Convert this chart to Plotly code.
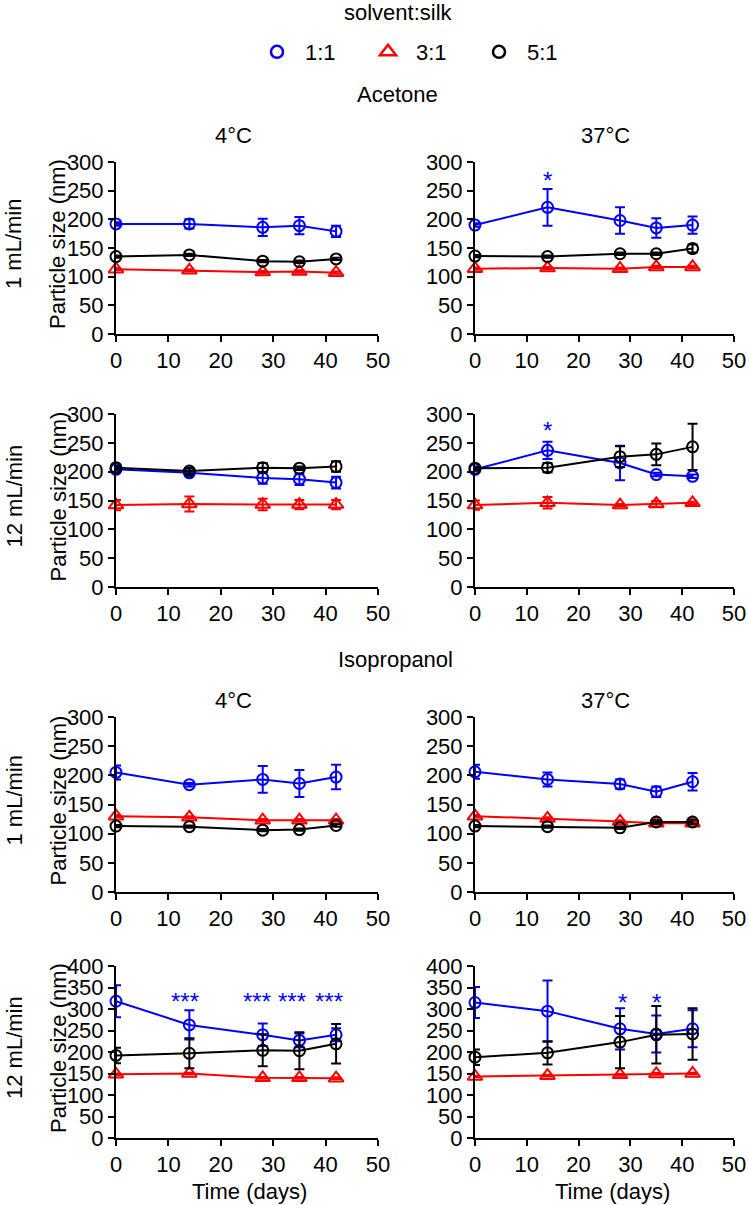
import plotly.graph_objects as go
from plotly.subplots import make_subplots

W, H = 749, 1205
FONT = "Liberation Sans, Arial, sans-serif"
FS = 22

days = [0, 14, 28, 35, 42]
ratios = ["1:1", "3:1", "5:1"]
colors = {"1:1": "#0000ff", "3:1": "#ff0000", "5:1": "#000000"}
symbols = {"1:1": "circle-open", "3:1": "triangle-up-open", "5:1": "circle-open"}
sizes = {"1:1": 11, "3:1": 13, "5:1": 11}

# Acetone, 1 mL/min, 4 °C
ace_1_4_11 = [192, 192, 186, 189, 179]
ace_1_4_11_sd = [3, 8, 15, 15, 10]
ace_1_4_31 = [113, 111, 108, 109, 107]
ace_1_4_31_sd = [2, 2, 2, 2, 2]
ace_1_4_51 = [135, 138, 127, 126, 131]
ace_1_4_51_sd = [2, 2, 2, 2, 2]

# Acetone, 1 mL/min, 37 °C
ace_1_37_11 = [190, 221, 198, 185, 190]
ace_1_37_11_sd = [3, 32, 23, 17, 15]
ace_1_37_31 = [114, 115, 114, 117, 117]
ace_1_37_31_sd = [2, 2, 2, 2, 2]
ace_1_37_51 = [136, 135, 140, 140, 149]
ace_1_37_51_sd = [2, 2, 2, 2, 7]

# Acetone, 12 mL/min, 4 °C
ace_12_4_11 = [204, 198, 189, 187, 181]
ace_12_4_11_sd = [3, 4, 10, 10, 10]
ace_12_4_31 = [142, 144, 143, 143, 143]
ace_12_4_31_sd = [9, 13, 10, 8, 8]
ace_12_4_51 = [207, 201, 207, 206, 209]
ace_12_4_51_sd = [3, 5, 8, 3, 9]

# Acetone, 12 mL/min, 37 °C
ace_12_37_11 = [204, 237, 215, 195, 192]
ace_12_37_11_sd = [3, 15, 30, 3, 3]
ace_12_37_31 = [142, 146, 142, 144, 146]
ace_12_37_31_sd = [8, 10, 2, 5, 2]
ace_12_37_51 = [206, 207, 226, 230, 243]
ace_12_37_51_sd = [3, 8, 18, 19, 40]

# Isopropanol, 1 mL/min, 4 °C
iso_1_4_11 = [205, 184, 193, 186, 197]
iso_1_4_11_sd = [12, 3, 23, 23, 21]
iso_1_4_31 = [130, 128, 123, 123, 123]
iso_1_4_31_sd = [2, 2, 2, 2, 2]
iso_1_4_51 = [113, 112, 106, 107, 114]
iso_1_4_51_sd = [2, 2, 2, 2, 2]

# Isopropanol, 1 mL/min, 37 °C
iso_1_37_11 = [206, 193, 185, 172, 189]
iso_1_37_11_sd = [12, 12, 8, 9, 15]
iso_1_37_31 = [130, 126, 121, 118, 118]
iso_1_37_31_sd = [2, 2, 2, 2, 2]
iso_1_37_51 = [113, 112, 110, 120, 120]
iso_1_37_51_sd = [2, 2, 2, 3, 4]

# Isopropanol, 12 mL/min, 4 °C
iso_12_4_11 = [318, 263, 240, 227, 240]
iso_12_4_11_sd = [37, 34, 26, 16, 15]
iso_12_4_31 = [148, 150, 140, 140, 139]
iso_12_4_31_sd = [2, 2, 2, 2, 2]
iso_12_4_51 = [192, 197, 204, 203, 219]
iso_12_4_51_sd = [18, 35, 37, 43, 46]

# Isopropanol, 12 mL/min, 37 °C
iso_12_37_11 = [315, 295, 254, 242, 254]
iso_12_37_11_sd = [36, 71, 48, 43, 43]
iso_12_37_31 = [143, 145, 147, 149, 150]
iso_12_37_31_sd = [2, 2, 2, 2, 2]
iso_12_37_51 = [188, 198, 223, 240, 242]
iso_12_37_51_sd = [18, 27, 61, 67, 60]

# significance marks: (day, level, text, series)
ace_1_37_stars = [(14, 280, "*", "1:1")]
ace_12_37_stars = [(14, 283, "*", "1:1"), (42, 309, "**", "5:1")]
iso_12_4_stars = [(13.2, 334, "***", "1:1"), (26.9, 334, "***", "1:1"),
                  (33.6, 334, "***", "1:1"), (40.6, 334, "***", "1:1")]
iso_12_37_stars = [(28.4, 331, "*", "1:1"), (35.1, 331, "*", "1:1")]

panels = [
    (1, 1, [ace_1_4_11, ace_1_4_31, ace_1_4_51],
     [ace_1_4_11_sd, ace_1_4_31_sd, ace_1_4_51_sd], []),
    (1, 2, [ace_1_37_11, ace_1_37_31, ace_1_37_51],
     [ace_1_37_11_sd, ace_1_37_31_sd, ace_1_37_51_sd], ace_1_37_stars),
    (2, 1, [ace_12_4_11, ace_12_4_31, ace_12_4_51],
     [ace_12_4_11_sd, ace_12_4_31_sd, ace_12_4_51_sd], []),
    (2, 2, [ace_12_37_11, ace_12_37_31, ace_12_37_51],
     [ace_12_37_11_sd, ace_12_37_31_sd, ace_12_37_51_sd], ace_12_37_stars),
    (3, 1, [iso_1_4_11, iso_1_4_31, iso_1_4_51],
     [iso_1_4_11_sd, iso_1_4_31_sd, iso_1_4_51_sd], []),
    (3, 2, [iso_1_37_11, iso_1_37_31, iso_1_37_51],
     [iso_1_37_11_sd, iso_1_37_31_sd, iso_1_37_51_sd], []),
    (4, 1, [iso_12_4_11, iso_12_4_31, iso_12_4_51],
     [iso_12_4_11_sd, iso_12_4_31_sd, iso_12_4_51_sd], iso_12_4_stars),
    (4, 2, [iso_12_37_11, iso_12_37_31, iso_12_37_51],
     [iso_12_37_11_sd, iso_12_37_31_sd, iso_12_37_51_sd], iso_12_37_stars),
]

# pixel layout: (left, right) per column, (top, bottom) per row
col_px = {1: (116, 378), 2: (475, 734)}
row_px = {1: (162, 334), 2: (414, 587), 3: (717, 892), 4: (966, 1138)}
row_ymax = {1: 300, 2: 300, 3: 300, 4: 400}


def px_x(p):
    return p / W


def px_y(p):
    return 1 - p / H


fig = make_subplots(rows=4, cols=2)

for row, col, means, sds, stars in panels:
    for ratio, m, sd in zip(ratios, means, sds):
        fig.add_trace(
            go.Scatter(
                x=days,
                y=m,
                mode="lines+markers",
                line=dict(color=colors[ratio], width=2),
                marker=dict(symbol=symbols[ratio], size=sizes[ratio],
                            color=colors[ratio], line=dict(width=2)),
                error_y=dict(type="data", array=sd, visible=True,
                             color=colors[ratio], thickness=2, width=5),
                cliponaxis=False,
                showlegend=False,
            ),
            row=row,
            col=col,
        )
    for day, level, txt, ratio in stars:
        fig.add_annotation(
            x=day, y=level, text=txt, showarrow=False, yshift=-7,
            font=dict(family=FONT, size=24, color=colors[ratio]),
            row=row, col=col,
        )

# legend-only entries
for ratio in ratios:
    fig.add_trace(
        go.Scatter(
            x=[None], y=[None], mode="markers", name=ratio,
            marker=dict(symbol=symbols[ratio], size=sizes[ratio] + 1,
                        color=colors[ratio], line=dict(width=2.5)),
        )
    )

for row in range(1, 5):
    for col in (1, 2):
        l, r = col_px[col]
        t, b = row_px[row]
        ymax = row_ymax[row]
        fig.update_xaxes(
            domain=[px_x(l), px_x(r)], range=[0, 50], tickvals=list(range(0, 51, 10)),
            row=row, col=col,
        )
        fig.update_yaxes(
            domain=[px_y(b), px_y(t)], range=[0, ymax],
            tickvals=list(range(0, ymax + 1, 50)),
            row=row, col=col,
        )

axis_style = dict(showline=True, linewidth=2, linecolor="black", ticks="outside",
                  ticklen=6, tickwidth=2, tickcolor="black", showgrid=False,
                  zeroline=False, automargin=False,
                  tickfont=dict(family=FONT, size=FS, color="black"))
fig.update_xaxes(**axis_style)
fig.update_yaxes(**axis_style)


def label(text, x, y, angle=0):
    fig.add_annotation(
        x=px_x(x), y=px_y(y), xref="paper", yref="paper", text=text,
        showarrow=False, textangle=angle, xanchor="center", yanchor="middle",
        font=dict(family=FONT, size=FS, color="black"),
    )


label("solvent:silk", 398, 13)
label("Acetone", 397, 95)
label("Isopropanol", 395, 659)
for y in (135, 700):
    label("4°C", 233, y)
    label("37°C", 605, y)

for row, name in zip(range(1, 5), ["1 mL/min", "12 mL/min", "1 mL/min", "12 mL/min"]):
    t, b = row_px[row]
    label(name, 14, (t + b) / 2 - 4, -90)
    label("Particle size (nm)", 58, (t + b) / 2 - 4, -90)

label("Time (days)", 249, 1191)
label("Time (days)", 612, 1191)

fig.update_layout(
    template="simple_white",
    width=W,
    height=H,
    autosize=False,
    margin=dict(l=0, r=0, t=0, b=0, pad=0),
    paper_bgcolor="white",
    plot_bgcolor="white",
    font=dict(family=FONT, size=FS, color="black"),
    showlegend=True,
    legend=dict(
        orientation="h", x=px_x(249), y=px_y(52), xanchor="left", yanchor="middle",
        font=dict(family=FONT, size=FS, color="black"),
        itemwidth=46, entrywidth=50, bgcolor="rgba(0,0,0,0)",
    ),
)

# drop the page's default body margin so the figure sits at the window origin
fig.write_html(
    "out.html",
    config={"displayModeBar": False},
    post_script="document.body.style.margin = '0';",
)
